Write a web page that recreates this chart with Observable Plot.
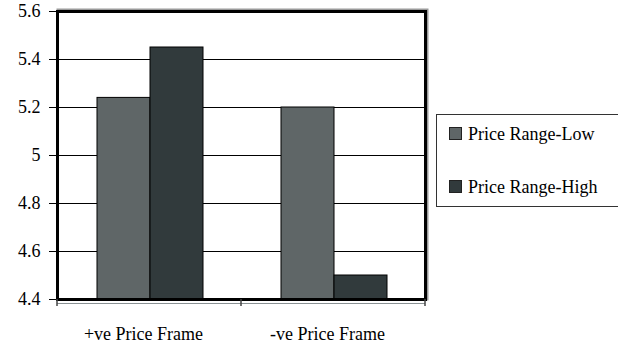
<!DOCTYPE html>
<html>
<head>
<meta charset="utf-8">
<script src="https://cdn.jsdelivr.net/npm/d3@7"></script>
<script src="https://cdn.jsdelivr.net/npm/@observablehq/plot@0.6"></script>
<style>
  html, body { margin: 0; padding: 0; background: white; }
  #wrap { position: relative; width: 618px; height: 345px; font-family: "Liberation Serif", "Times New Roman", serif; }
  #legend { position: absolute; left: 436px; top: 114px; width: 182px; height: 93px; border: 1px solid #333; border-right: none; box-sizing: border-box; background: white; }
  .item { position: absolute; left: 12px; font-size: 18px; line-height: 18px; color: #000; white-space: nowrap; }
  .sw { display: inline-block; width: 11px; height: 11px; border: 1px solid #222; margin-right: 6px; vertical-align: 0px; }
</style>
</head>
<body>
<div id="wrap"></div>
<script>
const categories = ["+ve Price Frame", "-ve Price Frame"];
const seriesNames = ["Price Range-Low", "Price Range-High"];
const lowValues = [5.24, 5.20];
const highValues = [5.45, 4.50];
const yTicks = [4.4, 4.6, 4.8, 5, 5.2, 5.4, 5.6];
const colors = ["#5f6667", "#313a3c"];

const FONT = '"Liberation Serif", "Times New Roman", serif';
const yMin = yTicks[0], yMax = yTicks[yTicks.length - 1];
const lowData = categories.map((c, i) => ({category: c, series: seriesNames[0], value: lowValues[i]}));
const highData = categories.map((c, i) => ({category: c, series: seriesNames[1], value: highValues[i]}));

const chart = Plot.plot({
  width: 618,
  height: 345,
  marginLeft: 57,
  marginRight: 193,
  marginTop: 11,
  marginBottom: 46,
  style: {fontFamily: FONT, fontSize: "18px", background: "white", color: "black"},
  x: {domain: categories, padding: 0, axis: null},
  y: {domain: [yMin, yMax], ticks: yTicks, axis: null},
  marks: [
    Plot.ruleY(yTicks, {stroke: "black", strokeWidth: 1}),
    Plot.barY(lowData, {x: "category", y1: yMin, y2: "value", fill: colors[0], stroke: "black", strokeWidth: 1, insetLeft: 40, insetRight: 91}),
    Plot.barY(highData, {x: "category", y1: yMin, y2: "value", fill: colors[1], stroke: "black", strokeWidth: 1, insetLeft: 93, insetRight: 38}),
    Plot.ruleY([yMin], {stroke: "#8a9294", strokeWidth: 1, dy: 4}),
    Plot.frame({stroke: "#9a9a9a", strokeWidth: 2, insetTop: -2, insetRight: -2}),
    Plot.frame({stroke: "black", strokeWidth: 3}),
    Plot.axisY(yTicks, {tickSize: 8, tickPadding: 9, fontSize: 18, label: null, stroke: "black", tickFormat: d => String(d)}),
    Plot.axisX({tickSize: 0, tickPadding: 28, fontSize: 18, label: null, dx: -6})
  ]
});

// boundary tick marks on the category axis, from the x band scale
const xs = chart.scale("x");
const ys = chart.scale("y");
const edges = categories.map(c => xs.apply(c)).concat([xs.apply(categories[categories.length - 1]) + xs.bandwidth]);
const y0 = ys.apply(yMin);
d3.select(chart).append("g")
  .attr("stroke", "#444")
  .attr("stroke-width", 1.5)
  .selectAll("line")
  .data(edges)
  .join("line")
  .attr("x1", d => d).attr("x2", d => d)
  .attr("y1", y0).attr("y2", y0 + 7);

const wrap = document.getElementById("wrap");
wrap.appendChild(chart);

const legend = document.createElement("div");
legend.id = "legend";
const tops = [10, 63];
seriesNames.forEach((s, i) => {
  const it = document.createElement("div");
  it.className = "item";
  it.style.top = tops[i] + "px";
  it.innerHTML = `<span class="sw" style="background:${colors[i]}"></span>${s}`;
  legend.appendChild(it);
});
wrap.appendChild(legend);
</script>
</body>
</html>
